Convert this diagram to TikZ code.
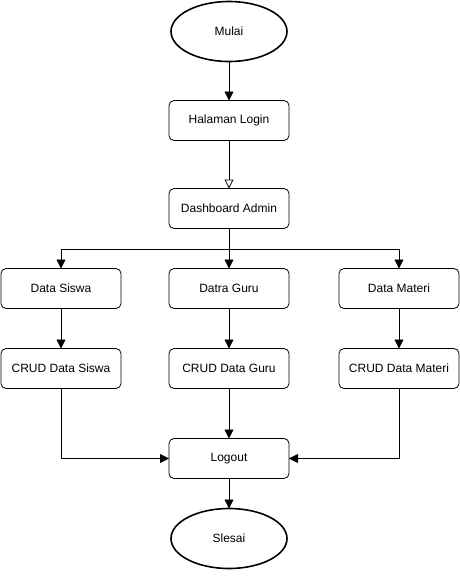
\documentclass[tikz,border=0pt]{standalone}
\usepackage{fontspec}
\setmainfont{Liberation Sans}
\usetikzlibrary{shapes,arrows.meta,positioning}

\begin{document}
\begin{tikzpicture}[->, font=\fontsize{12}{14}\selectfont, >={Triangle[length=9pt,width=9pt]}, line width=0.8pt, node distance=40pt]
      \tikzstyle{terminal}=[ellipse, draw, line width=1.6pt, outer sep=0pt, minimum width=116pt, minimum height=60pt]
      \tikzstyle{process}=[rectangle, draw, rounded corners=5pt, outer sep=0pt, minimum width=120pt, minimum height=40pt]
      \useasboundingbox (0pt,0pt) rectangle (460pt,-576pt);
      \node[terminal] (mulai) at (229pt,-31.5pt) {Mulai};
      \node[process] (login) [below=39pt of mulai] {Halaman Login};
      \node[process] (dash) [below=48pt of login] {Dashboard Admin};
      \node[process] (guru) [below=of dash] {Datra Guru};
      \node[process] (siswa) [left=48pt of guru] {Data Siswa};
      \node[process] (materi) [right=50pt of guru] {Data Materi};
      \node[process] (crudsiswa) [below=of siswa] {CRUD Data Siswa};
      \node[process] (crudguru) [below=of guru] {CRUD Data Guru};
      \node[process] (crudmateri) [below=of materi] {CRUD Data Materi};
      \node[process] (logout) [below=50pt of crudguru] {Logout};
      \node[terminal] (slesai) [below=30pt of logout] {Slesai};
      \coordinate (split) at ([yshift=-21pt]dash.south);
      \path
      (mulai) edge (login)
      (login) edge [-{Triangle[open,length=9pt,width=9pt]}] (dash)
      (dash) edge (guru)
      (siswa) edge (crudsiswa)
      (guru) edge (crudguru)
      (materi) edge (crudmateri)
      (crudguru) edge (logout)
      (logout) edge (slesai);
      \draw (split) -| (siswa);
      \draw (split) -| (materi);
      \draw (crudsiswa) |- (logout);
      \draw (crudmateri) |- (logout);
    \end{tikzpicture}
\end{document}
